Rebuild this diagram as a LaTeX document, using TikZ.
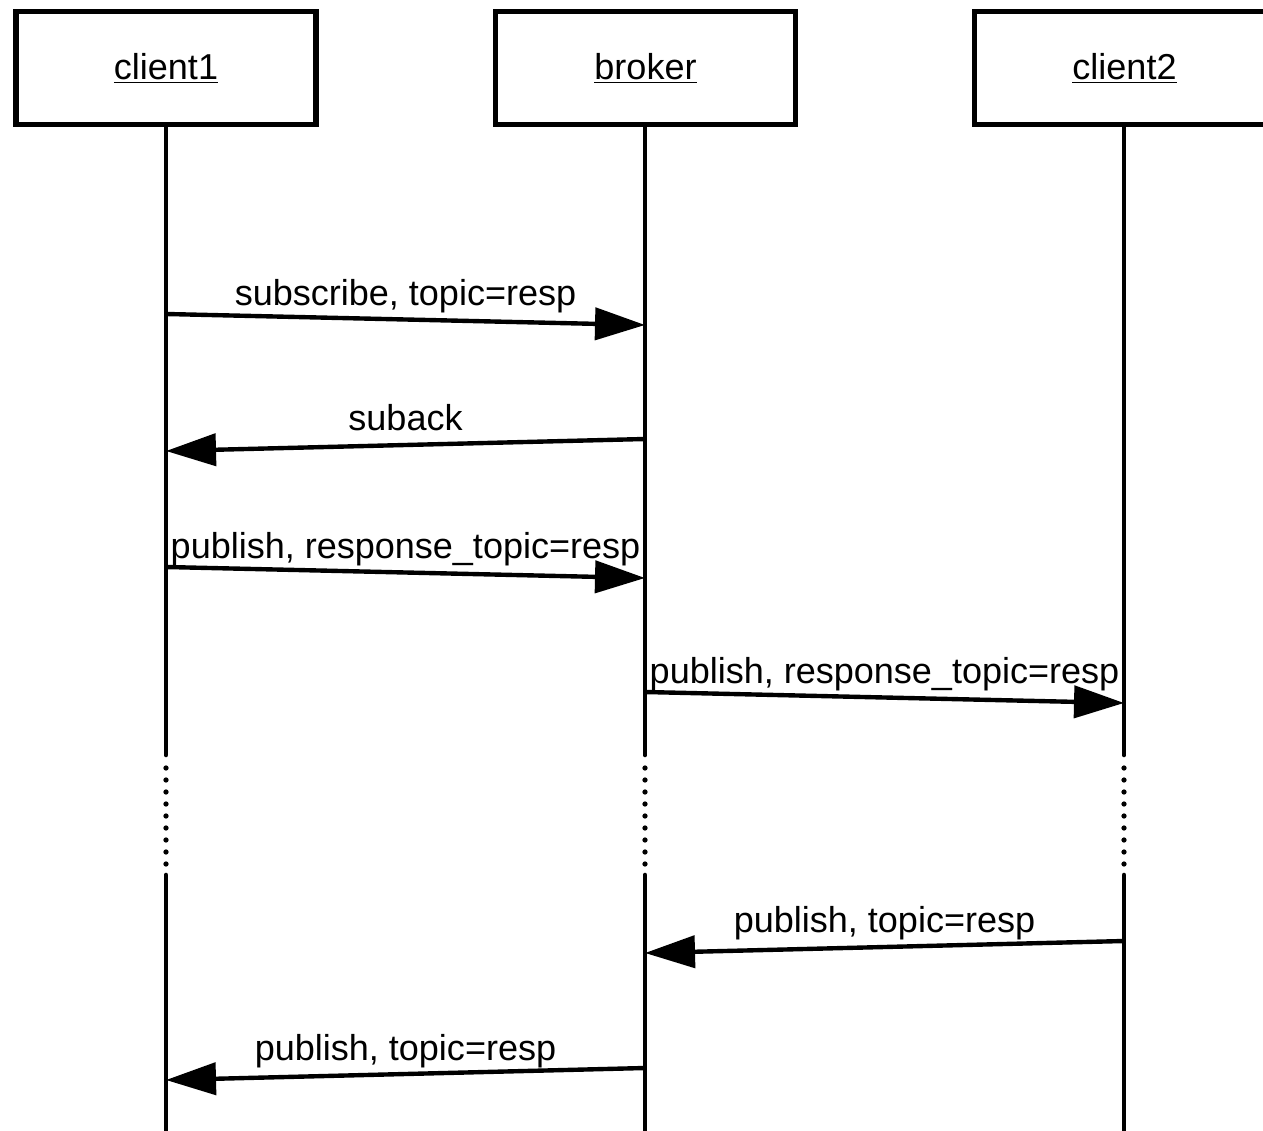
\documentclass[tikz,border=0pt]{standalone}
\usepackage{fontspec}
\setmainfont{Liberation Sans}
\usetikzlibrary{arrows.meta}
\begin{document}
\begin{tikzpicture}[x=0.02cm,y=-0.02cm,
  headbox/.style={draw, line width=3.2pt, minimum width=6cm, minimum height=2.26cm, inner sep=0pt, fill=white, font=\fontsize{20.5}{24}\selectfont},
  life/.style={line width=2.6pt, line cap=round},
  lifedots/.style={line width=3pt, line cap=round, dash pattern=on 0pt off 6.83pt},
  msg/.style={line width=2.5pt, -{Triangle[length=1.0cm,width=0.64cm]}},
  msglabel/.style={anchor=base, inner sep=0pt, font=\fontsize{20.5}{24}\selectfont},
]
\useasboundingbox (0,0) rectangle (1263,1131);
\clip (0,0) rectangle (1263,1131);

% heads
\node[headbox] (c1) at (166,68) {\underline{client1}};
\node[headbox] (br) at (645.5,68) {\underline{broker}};
\node[headbox] (c2) at (1124.5,68) {\underline{client2}};

% lifeline coordinates
\coordinate (c1a) at (166,755);  \coordinate (c1b) at (166,768);
\coordinate (c1c) at (166,864);  \coordinate (c1d) at (166,875);
\coordinate (c1e) at (166,1135);
\coordinate (bra) at (645,755);  \coordinate (brb) at (645,768);
\coordinate (brc) at (645,864);  \coordinate (brd) at (645,875);
\coordinate (bre) at (645,1135);
\coordinate (c2a) at (1124,755); \coordinate (c2b) at (1124,768);
\coordinate (c2c) at (1124,864); \coordinate (c2d) at (1124,875);
\coordinate (c2e) at (1124,1135);

\draw[life] (c1.south) -- (c1a);
\draw[lifedots] (c1b) -- (c1c);
\draw[life] (c1d) -- (c1e);
\draw[life] (br.south -| bra) -- (bra);
\draw[lifedots] (brb) -- (brc);
\draw[life] (brd) -- (bre);
\draw[life] (c2.south -| c2a) -- (c2a);
\draw[lifedots] (c2b) -- (c2c);
\draw[life] (c2d) -- (c2e);

% message end points
\coordinate (m1s) at (166,314);  \coordinate (m1e) at (645,325);
\coordinate (m2s) at (645,439);  \coordinate (m2e) at (166,451);
\coordinate (m3s) at (166,567);  \coordinate (m3e) at (645,578);
\coordinate (m4s) at (645,692);  \coordinate (m4e) at (1124,703);
\coordinate (m5s) at (1124,941); \coordinate (m5e) at (645,953);
\coordinate (m6s) at (645,1068); \coordinate (m6e) at (166,1080);

\draw[msg] (m1s) -- (m1e);
\draw[msg] (m2s) -- (m2e);
\draw[msg] (m3s) -- (m3e);
\draw[msg] (m4s) -- (m4e);
\draw[msg] (m5s) -- (m5e);
\draw[msg] (m6s) -- (m6e);

% labels
\node[msglabel] (t1) at (405.5,306) {subscribe, topic=resp};
\node[msglabel] (t2) at (405.5,430) {suback};
\node[msglabel] (t3) at (405.5,558) {publish, response\_topic=resp};
\node[msglabel] (t4) at (884.5,683) {publish, response\_topic=resp};
\node[msglabel] (t5) at (884.5,932) {publish, topic=resp};
\node[msglabel] (t6) at (405.5,1060) {publish, topic=resp};
\end{tikzpicture}
\end{document}
